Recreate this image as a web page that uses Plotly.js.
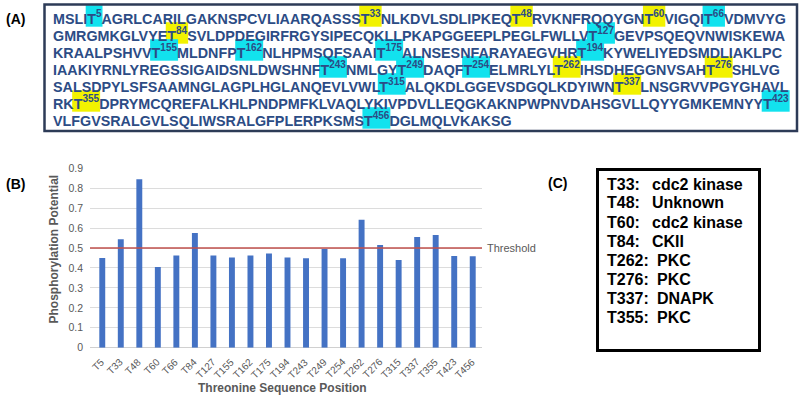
<!DOCTYPE html>
<html><head><meta charset="utf-8">
<script src="https://cdn.plot.ly/plotly-3.0.1.min.js"></script>
<style>html,body{margin:0;padding:0;background:#fff}#chart{width:802px;height:395px}</style>
</head><body><div id="chart"></div>
<script>
// ---------------- data ----------------
const positions = ['T5','T33','T48','T60','T66','T84','T127','T155','T162','T175','T194','T243','T249','T254','T262','T276','T315','T337','T355','T423','T456'];
const potential = [0.45,0.544,0.845,0.405,0.462,0.575,0.462,0.453,0.463,0.473,0.453,0.449,0.495,0.449,0.642,0.515,0.44,0.555,0.565,0.46,0.459];
const threshold = 0.5;
const kinaseSites = ['T33:','T48:','T60:','T84:','T262:','T276:','T337:','T355:'];
const kinaseNames = ['cdc2 kinase','Unknown','cdc2 kinase','CKII','PKC','PKC','DNAPK','PKC'];
const kinaseSiteNums = ['33','48','60','84','262','276','337','355'];
const sequenceRows = [
 'MSLI[T5]AGRLCARILGAKNSPCVLIAARQASSS[T33]NLKDVLSDLIPKEQ[T48]RVKNFRQQYGN[T60]VIGQI[T66]VDMVYG',
 'GMRGMKGLVYE[T84]SVLDPDEGIRFRGYSIPECQKLLPKAPGGEEPLPEGLFWLLV[T127]GEVPSQEQVNWISKEWA',
 'KRAALPSHVV[T155]MLDNFP[T162]NLHPMSQFSAAI[T175]ALNSESNFARAYAEGVHR[T194]KYWELIYEDSMDLIAKLPC',
 'IAAKIYRNLYREGSSIGAIDSNLDWSHNF[T243]NMLGY[T249]DAQF[T254]ELMRLYL[T262]IHSDHEGGNVSAH[T276]SHLVG',
 'SALSDPYLSFSAAMNGLAGPLHGLANQEVLVWL[T315]ALQKDLGGEVSDGQLKDYIWN[T337]LNSGRVVPGYGHAVL',
 'RK[T355]DPRYMCQREFALKHLPNDPMFKLVAQLYKIVPDVLLEQGKAKNPWPNVDAHSGVLLQYYGMKEMNYY[T423]',
 'VLFGVSRALGVLSQLIWSRALGFPLERPKSMS[T456]DGLMQLVKAKSG'
];

// ---------------- helpers ----------------
const W = 802, H = 395;
const px = x => x / W, py = y => 1 - y / H;
const seqFont = "'Liberation Sans',Arial,sans-serif";
const chartFont = "'Liberation Sans',Arial,sans-serif";
const seqColor = '#2c4c85';
const gray = '#595959';
const ctx = document.createElement('canvas').getContext('2d');
function mw(text, size){ ctx.font = 'bold ' + size + 'px ' + seqFont; return ctx.measureText(text).width; }

function parseRow(row){
  const parts = row.split(/\[T(\d+)\]/);
  const segs = [];
  for (let i = 0; i < parts.length; i += 2){
    const num = parts[i+1];
    segs.push({text: parts[i] + (num !== undefined ? 'T' : ''), num: num});
  }
  return segs;
}
const parsed = sequenceRows.map(parseRow);
const seqSize = 15.5;
function rowWidth(segs){
  let w = 0;
  segs.forEach(s => { w += mw(s.text, seqSize); if (s.num) w += mw(s.num, seqSize*0.7); });
  return w;
}
const seqLeft = 52.5, row1Target = 733;
const squeeze = Math.min(1, row1Target / rowWidth(parsed[0]));   // narrow (condensed) glyphs
const rowTargets = [];

const annotations = [];
const shapes = [];

shapes.push({type:'rect', xref:'paper', yref:'paper', x0:px(44.5), x1:px(797), y0:py(4.5), y1:py(131),
  line:{color:'#2d3b57', width:2.5}, fillcolor:'rgba(0,0,0,0)', layer:'above'});

parsed.forEach((segs, r) => {
  const yc = 16.7 + 17*r;
  let x = 0;
  let html = '';
  segs.forEach(s => {
    const w = mw(s.text, seqSize);
    html += s.text;
    if (s.num){
      const tw = mw('T', seqSize), sw = mw(s.num, seqSize*0.7);
      const tx = x + w - tw;
      const isKinase = kinaseSiteNums.indexOf(s.num) >= 0;
      shapes.push({type:'rect', xref:'paper', yref:'paper', layer:'below',
        x0:px(seqLeft + tx*squeeze - 1), x1:px(seqLeft + (tx+tw+sw)*squeeze + 1.5), y0:py(yc-11.5), y1:py(yc+10),
        line:{width:0}, fillcolor: isKinase ? '#f2f200' : '#12e2ee'});
      html += '<sup>' + s.num + '</sup>';
      x += w + sw;
    } else x += w;
  });
  rowTargets.push(x * squeeze);
  annotations.push({xref:'paper', yref:'paper', x:px(seqLeft), y:py(yc), xanchor:'left', yanchor:'middle', align:'left',
    text: html, showarrow:false, borderpad:0, borderwidth:0,
    font:{family:seqFont, size:seqSize, color:seqColor, weight:'bold'}});
});

[['(A)',4,19],['(B)',4,184],['(C)',546,183]].forEach(l => annotations.push({
  xref:'paper', yref:'paper', x:px(l[1]), y:py(l[2]), xanchor:'left', yanchor:'middle', text:'<b>'+l[0]+'</b>',
  showarrow:false, font:{family:chartFont, size:14, color:'#000'}}));

// x tick labels, slanted at -45 degrees under each bar
positions.forEach(p => annotations.push({xref:'x', yref:'paper', x:p, y:py(356), xanchor:'right', yanchor:'top',
  xshift:4, textangle:-45, text:p, showarrow:false, borderpad:0, borderwidth:0,
  font:{family:chartFont, size:10, color:gray}}));

annotations.push({xref:'paper', yref:'paper', x:px(282.5), y:py(387.5), xanchor:'center', yanchor:'middle',
  text:'<b>Threonine Sequence Position</b>', showarrow:false, font:{family:chartFont, size:12, color:gray}});
annotations.push({xref:'paper', yref:'paper', x:px(53.5), y:py(249), xanchor:'center', yanchor:'middle', textangle:-90,
  text:'<b>Phosphorylation Potential</b>', showarrow:false, font:{family:chartFont, size:12, color:gray}});

shapes.push({type:'line', xref:'x domain', yref:'y', x0:0, x1:1, y0:threshold, y1:threshold,
  line:{color:'#c0504d', width:1.5}, layer:'above'});
annotations.push({xref:'paper', yref:'y', x:px(485), y:threshold, xanchor:'left', yanchor:'middle',
  text:'Threshold', showarrow:false, font:{family:chartFont, size:11, color:gray}});

shapes.push({type:'rect', xref:'paper', yref:'paper', x0:px(597.5), x1:px(759.5), y0:py(169.5), y1:py(350.5),
  line:{color:'#000', width:3}, fillcolor:'rgba(0,0,0,0)'});
kinaseSites.forEach((s, i) => {
  const yc = 184 + 19*i;
  annotations.push({xref:'paper', yref:'paper', x:px(605), y:py(yc), xanchor:'left', yanchor:'middle',
    text:'<b>'+s+'</b>', showarrow:false, font:{family:chartFont, size:16, color:'#000'}});
  annotations.push({xref:'paper', yref:'paper', x:px(s.length > 4 ? 655 : 650), y:py(yc), xanchor:'left', yanchor:'middle',
    text:'<b>'+kinaseNames[i]+'</b>', showarrow:false, font:{family:chartFont, size:16, color:'#000'}});
});

const trace = {type:'bar', x:positions, y:potential, marker:{color:'#4472c4'}, hoverinfo:'none'};

const layout = {
  width:W, height:H, margin:{l:0, r:0, t:0, b:0}, showlegend:false,
  paper_bgcolor:'#fff', plot_bgcolor:'#fff', bargap:0.68,
  font:{family:chartFont, color:gray},
  xaxis:{domain:[px(90), px(482)], anchor:'y', type:'category', showticklabels:false, ticks:'', showgrid:false,
    zeroline:false, showline:false, automargin:false},
  yaxis:{domain:[py(347.7), py(168.3)], anchor:'x', range:[0,0.9], dtick:0.1, ticks:'', ticklabelstandoff:6,
    gridcolor:'#dcdcdc', gridwidth:1, zeroline:true, zerolinecolor:'#d0d0d0', zerolinewidth:1, showline:false,
    automargin:false, tickfont:{size:10.5, color:gray}},
  shapes:shapes, annotations:annotations
};
Plotly.newPlot('chart', [trace], layout, {staticPlot:true, displayModeBar:false}).then(gd => {
  // condense the sequence rows (narrow bold face, as in the original figure)
  const texts = gd.querySelectorAll('.annotation-text');
  for (let r = 0; r < sequenceRows.length; r++){
    const t = texts[r];
    if (!t) continue;
    t.setAttribute('textLength', rowTargets[r].toFixed(1));
    t.setAttribute('lengthAdjust', 'spacingAndGlyphs');
  }
});
</script></body></html>
